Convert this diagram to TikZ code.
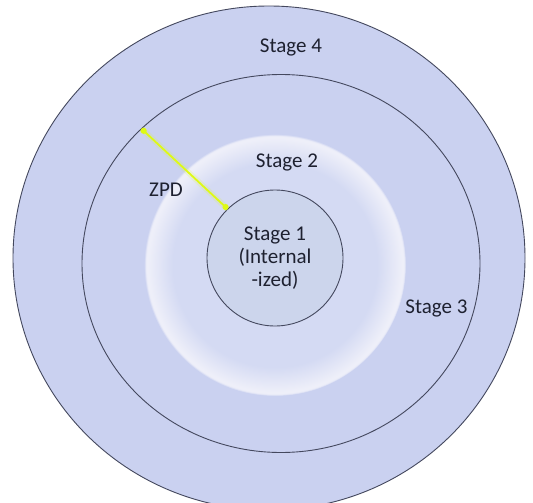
\documentclass[tikz,border=0pt]{standalone}
\usepackage{fontspec}
\setmainfont{Carlito}
\usetikzlibrary{shapes.geometric,arrows.meta}
\definecolor{ringcol}{RGB}{202,209,240}
\definecolor{stwoin}{RGB}{212,218,243}
\definecolor{stworim}{RGB}{238,239,249}
\definecolor{stonecol}{RGB}{204,213,236}
\definecolor{linecol}{RGB}{68,72,94}
\definecolor{txtcol}{RGB}{30,33,48}
\definecolor{zpdcol}{RGB}{222,250,20}
\pgfdeclareradialshading{stagetwo}{\pgfpoint{0bp}{0bp}}{%
  color(0bp)=(stwoin); color(19.5bp)=(stwoin); color(24.2bp)=(stworim);
  color(24.6bp)=(stworim); color(25bp)=(ringcol); color(50bp)=(ringcol)}
\tikzset{
  ringline/.style={draw=linecol, line width=0.9pt, fill=ringcol, inner sep=0pt, outer sep=0pt},
  lbl/.style={text=txtcol, font=\fontsize{21}{23}\selectfont, inner sep=0pt},
}
\begin{document}
\begin{tikzpicture}[x=1pt,y=-1pt]
\useasboundingbox (0,0) rectangle (533,503);
\clip (0,0) rectangle (533,503);
\fill[white] (0,0) rectangle (533,503);
% outer circle (stage 4)
\node[ringline, ellipse, minimum width=512pt, minimum height=504pt] (s4) at (269,258) {};
% middle circle (stage 3)
\node[ringline, ellipse, minimum width=398pt, minimum height=378pt] (s3) at (281,263.5) {};
% stage 2 soft disc
\shade[shading=stagetwo] (275,265) circle[radius=131];
% stage 1 circle
\node[circle, draw=linecol, line width=0.9pt, fill=stonecol, minimum size=136pt,
      inner sep=0pt, outer sep=0pt, align=center, lbl] (s1) at (275,258)
  {Stage 1\\(Internal\\-ized)};
% ZPD arrow
\draw[zpdcol, line width=6pt, opacity=0.15] (s3.136.6) -- (s1.134);
\draw[zpdcol, line width=1.8pt, {Circle[length=6pt]}-{Circle[length=6pt]}]
  (s3.136.6) -- (s1.134);
% labels
\node[lbl] (l4) at (291,47) {Stage 4};
\node[lbl] (l2) at (287,162) {Stage 2};
\node[lbl] (l3) at (436.5,308) {Stage 3};
\node[lbl] (lz) at (166,190) {ZPD};
\end{tikzpicture}
\end{document}
